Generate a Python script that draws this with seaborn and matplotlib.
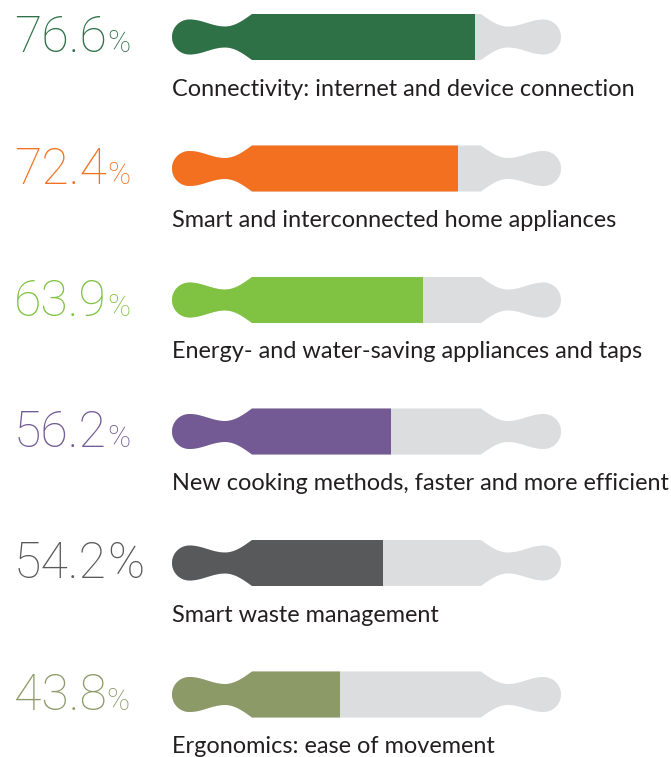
import numpy as np
import pandas as pd
import seaborn as sns
import matplotlib as mpl
import matplotlib.pyplot as plt
from matplotlib.patches import Polygon

mpl.use('Agg')

# data
labels = ['Connectivity: internet and device connection',
          'Smart and interconnected home appliances',
          'Energy- and water-saving appliances and taps',
          'New cooking methods, faster and more efficient',
          'Smart waste management',
          'Ergonomics: ease of movement']
values = [76.6, 72.4, 63.9, 56.2, 54.2, 43.8]
colors = ['#2e7147', '#f37021', '#80c342', '#735a94', '#58595b', '#8c9a68']

# style
pct_scale = [0.62, 0.62, 0.62, 0.62, 1.0, 0.62]
track = '#dcdddf'
text_col = '#231f20'

W, H = 671, 757
X0, PXU = 158.6, 4.136      # pixel of value 0, pixels per percent
ROW_PX = 131.5              # pixels per row
TOP_PX = 37.0               # centre of first row

sns.set_theme(style='white')
plt.rcParams['font.family'] = ['Lato', 'DejaVu Sans']

df = pd.DataFrame({'label': labels, 'value': values})

fig = plt.figure(figsize=(W / 100, H / 100), dpi=100)
ax = fig.add_axes([0, 0, 1, 1])

sns.barplot(data=df, x='value', y='label', hue='label', palette=colors,
            orient='h', width=0.5, legend=False, ax=ax, zorder=2,
            saturation=1)


def half_height(d):
    # rolling pin outline, half height in pixels at distance d from an end
    r, neck, body = 17.5, 10.5, 23.0
    h = np.full_like(d, body)
    m = d < r
    h[m] = np.sqrt(np.clip(r ** 2 - (r - d[m]) ** 2, 0, None))
    m = (d >= r) & (d < 53)
    t = (d[m] - r) / (53 - r)
    h[m] = r + (neck - r) * (1 - np.cos(np.pi * t)) / 2
    m = (d >= 53) & (d < 80)
    t = (d[m] - 53) / 27
    h[m] = neck + (body - neck) * (1 - np.cos(np.pi / 2 * t))
    return h


xs_px = np.concatenate([np.linspace(172, 252, 600), np.linspace(252, 481, 20),
                        np.linspace(481, 561, 600)])
dist = np.minimum(xs_px - 172, 561 - xs_px)
hh = half_height(dist) / ROW_PX
xs = (xs_px - X0) / PXU

for i, patch in enumerate(ax.patches):
    verts = np.vstack([np.column_stack([xs, i - hh]),
                       np.column_stack([xs[::-1], i + hh[::-1]])])
    pin = Polygon(verts, closed=True, facecolor=track, edgecolor='none',
                  zorder=1)
    ax.add_patch(pin)
    patch.set_clip_path(pin)
    patch.set_edgecolor('none')

x_num = (14 - X0) / PXU
x_lab = (172 - X0) / PXU
for i, (lab, v, c) in enumerate(zip(labels, values, colors)):
    t = ax.text(x_num, i + 15.5 / ROW_PX, f'{v:.1f}', fontsize=36,
                family=['Roboto', 'DejaVu Sans'], fontweight='light',
                color=c, va='baseline', ha='left')
    ax.annotate('%', xy=(1, i + 15.5 / ROW_PX), xycoords=(t, 'data'),
                fontsize=36 * pct_scale[i], family=['Roboto', 'DejaVu Sans'],
                fontweight='light', color=c, va='baseline', ha='left')
    ax.text(x_lab, i + 52 / ROW_PX, lab, fontsize=16.9, color=text_col,
            va='center', ha='left')

ax.set_xlim(-X0 / PXU, (W - X0) / PXU)
ax.set_ylim((H - TOP_PX) / ROW_PX, -TOP_PX / ROW_PX)
ax.set_axis_off()

fig.savefig('out.png', dpi=100)
plt.close()
